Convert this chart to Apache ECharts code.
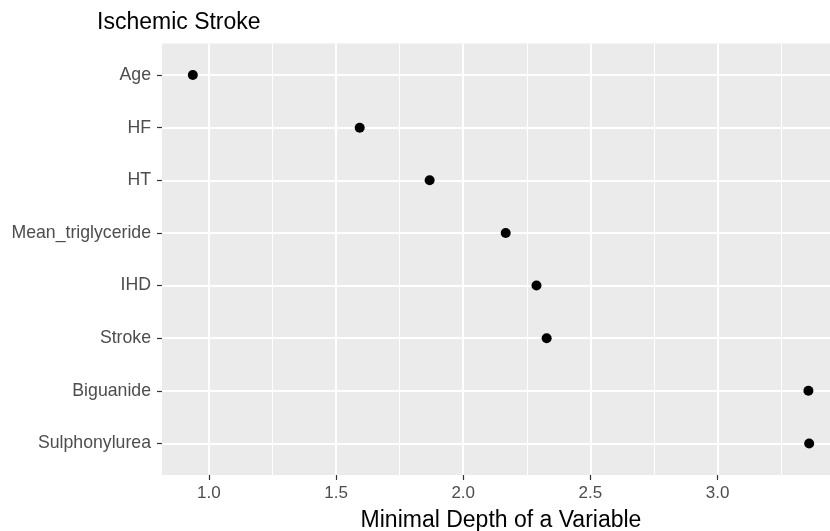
<!DOCTYPE html>
<html>
<head>
<meta charset="utf-8">
<title>Ischemic Stroke – Minimal Depth</title>
<script src="https://cdn.jsdelivr.net/npm/echarts@6/dist/echarts.min.js"></script>
<style>
  html, body { margin: 0; padding: 0; background: #ffffff; }
  #chart { width: 830px; height: 531px; }
</style>
</head>
<body>
<div id="chart"></div>
<script>
// Variables, top to bottom
const variables = ['Age', 'HF', 'HT', 'Mean_triglyceride', 'IHD', 'Stroke', 'Biguanide', 'Sulphonylurea'];
// Mean minimal depth of each variable
const minimalDepth = [0.937, 1.593, 1.868, 2.167, 2.288, 2.328, 3.357, 3.360];
// Axis ticks
const depthTicks = [1.0, 1.5, 2.0, 2.5, 3.0];
const depthMinorTicks = [1.25, 1.75, 2.25, 2.75, 3.25];
const rowTicks = variables.map((_, i) => i + 1);

// Padded ranges (5% on the continuous axis, 0.6 rows on the discrete axis)
const dataMin = Math.min(...minimalDepth);
const dataMax = Math.max(...minimalDepth);
const pad = (dataMax - dataMin) * 0.05;
const xMin = dataMin - pad;
const xMax = dataMax + pad;

const points = minimalDepth.map((v, i) => [v, i + 1]);

const FONT = '"Liberation Sans", Arial, Helvetica, sans-serif';
const chart = echarts.init(document.getElementById('chart'), null, { renderer: 'canvas' });

chart.setOption({
  backgroundColor: '#ffffff',
  animation: false,
  title: {
    text: 'Ischemic Stroke',
    left: 92,
    top: 6,
    textStyle: { fontFamily: FONT, fontSize: 23, fontWeight: 'normal', color: '#000000' }
  },
  grid: {
    left: 162,
    right: -10,
    top: 43.5,
    bottom: 56,
    outerBoundsMode: 'none',
    containLabel: false,
    show: true,
    backgroundColor: '#ebebeb',
    borderWidth: 0
  },
  xAxis: [
    {
      type: 'value',
      min: xMin,
      max: xMax,
      name: 'Minimal Depth of a Variable',
      nameLocation: 'middle',
      nameGap: 34,
      nameTextStyle: { fontFamily: FONT, fontSize: 23, color: '#000000' },
      axisLine: { show: false },
      axisTick: {
        show: true,
        customValues: depthTicks,
        length: 5,
        lineStyle: { color: '#333333', width: 1.2 }
      },
      axisLabel: {
        customValues: depthTicks,
        margin: 10,
        fontFamily: FONT,
        fontSize: 17,
        color: '#4d4d4d',
        formatter: v => v.toFixed(1)
      },
      splitLine: { show: true, lineStyle: { color: '#ffffff', width: 2 } }
    },
    {
      type: 'value',
      min: xMin,
      max: xMax,
      position: 'bottom',
      axisLine: { show: false },
      axisTick: { show: false, customValues: depthMinorTicks },
      axisLabel: { show: false, customValues: depthMinorTicks },
      splitLine: { show: true, lineStyle: { color: '#ffffff', width: 1 } }
    }
  ],
  yAxis: {
    type: 'value',
    inverse: true,
    min: 0.4,
    max: variables.length + 0.6,
    axisLine: { show: false },
    axisTick: {
      show: true,
      customValues: rowTicks,
      length: 5,
      lineStyle: { color: '#333333', width: 1.2 }
    },
    axisLabel: {
      customValues: rowTicks,
      margin: 11,
      fontFamily: FONT,
      fontSize: 17.7,
      color: '#4d4d4d',
      formatter: v => variables[Math.round(v) - 1] || ''
    },
    splitLine: { show: true, lineStyle: { color: '#ffffff', width: 2 } }
  },
  series: [
    {
      type: 'scatter',
      xAxisIndex: 0,
      data: points,
      symbol: 'circle',
      symbolSize: 10,
      itemStyle: { color: '#000000', opacity: 1 },
      clip: false
    }
  ]
});
</script>
</body>
</html>
